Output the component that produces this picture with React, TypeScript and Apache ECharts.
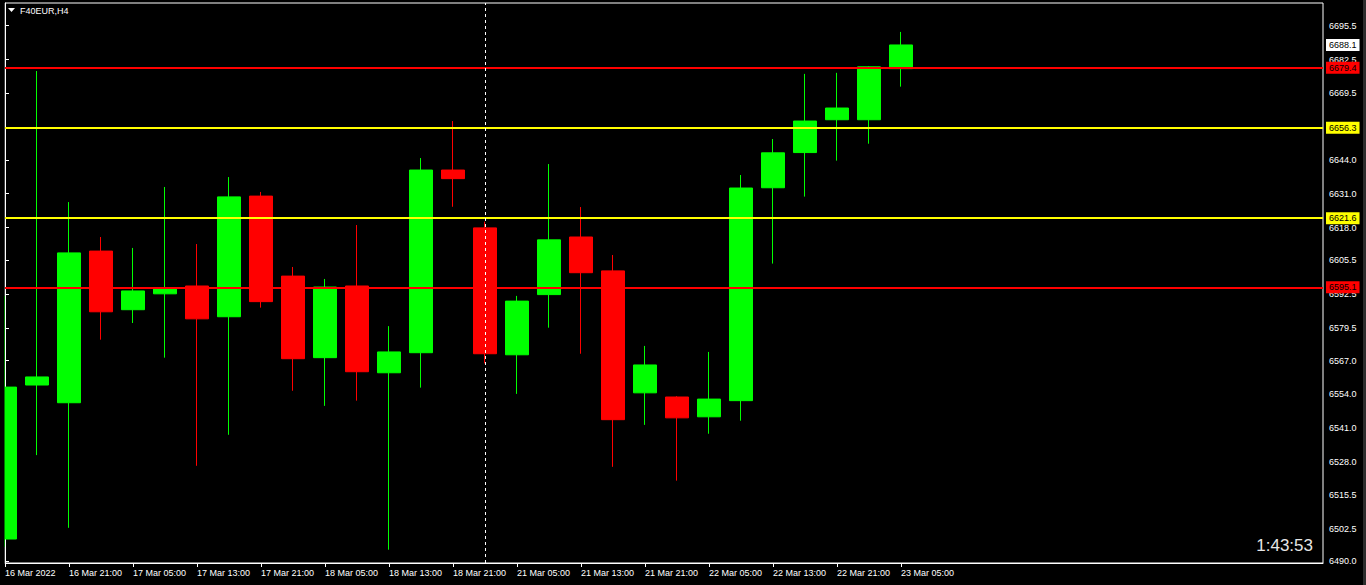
import React, { useEffect, useRef } from "react";
import * as echarts from "echarts";

const symbolTitle = "F40EUR,H4";
const timerText = "1:43:53";

// H4 candles, 16 Mar 13:00 -> 23 Mar 05:00
const opens = [6498.5, 6557.6, 6550.8, 6609.0, 6586.5, 6592.6, 6595.6, 6583.8, 6630.1, 6599.4, 6568.1, 6595.6, 6562.3, 6570.0, 6640.1, 6617.9, 6569.2, 6592.3, 6614.4, 6601.4, 6554.6, 6553.0, 6545.4, 6551.6, 6633.3, 6646.8, 6659.4, 6659.4, 6679.0];
const closes = [6556.8, 6560.7, 6608.3, 6585.7, 6593.7, 6594.8, 6583.0, 6629.8, 6589.6, 6567.7, 6595.2, 6562.7, 6570.3, 6640.1, 6636.8, 6569.6, 6589.8, 6613.3, 6600.7, 6544.3, 6565.3, 6545.0, 6552.2, 6633.2, 6646.7, 6658.9, 6663.9, 6679.7, 6688.1];
const lows = [6495.5, 6530.7, 6502.8, 6575.0, 6581.4, 6568.1, 6526.6, 6538.5, 6587.3, 6555.4, 6549.6, 6551.6, 6494.4, 6556.6, 6626.0, 6565.9, 6554.2, 6579.6, 6569.6, 6526.2, 6542.3, 6520.9, 6538.9, 6543.9, 6604.2, 6629.9, 6643.7, 6650.2, 6672.1];
const highs = [6591.8, 6678.1, 6627.8, 6614.4, 6610.2, 6633.6, 6611.7, 6637.4, 6631.7, 6602.9, 6598.3, 6619.0, 6580.2, 6644.7, 6658.9, 6620.3, 6591.8, 6642.4, 6625.9, 6607.5, 6572.6, 6553.3, 6570.3, 6638.2, 6652.0, 6677.0, 6677.4, 6679.9, 6693.1];

// x tick labels, one every two bars starting at bar 0
const xTickLabels = ["16 Mar 2022", "16 Mar 21:00", "17 Mar 05:00", "17 Mar 13:00", "17 Mar 21:00", "18 Mar 05:00", "18 Mar 13:00", "18 Mar 21:00", "21 Mar 05:00", "21 Mar 13:00", "21 Mar 21:00", "22 Mar 05:00", "22 Mar 13:00", "22 Mar 21:00", "23 Mar 05:00"];
const xTickStep = 2;

const yTickValues = [6490.0, 6502.5, 6515.5, 6528.0, 6541.0, 6554.0, 6567.0, 6579.5, 6592.5, 6605.5, 6618.0, 6631.0, 6644.0, 6656.5, 6669.5, 6682.5, 6695.5];

const resistanceLevels = [6679.4, 6595.1]; // red lines
const supportLevels = [6656.3, 6621.6]; // yellow lines
const currentPrice = 6688.1;
const separatorBar = 15; // week separator (21 Mar 01:00)

const yMin = 6489.3;
const yMax = 6704.2;
const xMax = 41.1875; // visible bar slots incl. empty future space

const FONT = "'Liberation Sans', Arial, sans-serif";

export default function App() {
  const ref = useRef<HTMLDivElement>(null);

  useEffect(() => {
    if (!ref.current) return;
    const chart = echarts.init(ref.current, undefined, { renderer: "svg" });

    const xTickIdx = xTickLabels.map((_, i) => i * xTickStep);

    const levelLabel = (v: number, bg: string) => ({
      show: true,
      position: "end" as const,
      formatter: v.toFixed(1),
      backgroundColor: bg,
      color: "#000",
      padding: [1, 3, 0, 3],
      fontSize: 9,
      lineHeight: 11,
      fontFamily: FONT,
      distance: 3,
    });

    const markData: any[] = [
      ...resistanceLevels.map((v) => ({
        yAxis: v,
        lineStyle: { color: "#ff0000", width: 2, type: "solid" },
        label: levelLabel(v, "#ff0000"),
      })),
      ...supportLevels.map((v) => ({
        yAxis: v,
        lineStyle: { color: "#ffff00", width: 2, type: "solid" },
        label: levelLabel(v, "#ffff00"),
      })),
      {
        yAxis: currentPrice,
        lineStyle: { color: "rgba(0,0,0,0)", width: 1, type: "solid" },
        label: levelLabel(currentPrice, "#ffffff"),
      },
      {
        xAxis: separatorBar,
        lineStyle: { color: "#ffffff", width: 1, type: [3, 3] },
        label: { show: false },
      },
    ];

    const option: any = {
      animation: false,
      backgroundColor: "#000",
      grid: {
        left: 5,
        top: 3,
        right: 43,
        bottom: 22,
        show: true,
        borderColor: "#ffffff",
        borderWidth: 1,
        backgroundColor: "#000",
      },
      xAxis: {
        type: "value",
        min: 0,
        max: xMax,
        axisLine: { show: true, lineStyle: { color: "#ffffff", width: 1 } },
        axisTick: { show: true, length: 4, lineStyle: { color: "#ffffff" }, customValues: xTickIdx },
        axisLabel: {
          customValues: xTickIdx,
          formatter: (v: number) => xTickLabels[Math.round(v / xTickStep)] ?? "",
          color: "#ffffff",
          fontSize: 9,
          fontFamily: FONT,
          align: "left",
          margin: 5,
        },
        splitLine: { show: false },
      },
      yAxis: {
        type: "value",
        position: "right",
        min: yMin,
        max: yMax,
        axisLine: { show: true, lineStyle: { color: "#ffffff", width: 1 } },
        axisTick: { show: true, length: 4, lineStyle: { color: "#ffffff" }, customValues: yTickValues },
        axisLabel: {
          customValues: yTickValues,
          formatter: (v: number) => v.toFixed(1),
          color: "#ffffff",
          fontSize: 9,
          fontFamily: FONT,
          margin: 6,
        },
        splitLine: { show: false },
      },
      series: [
        {
          type: "candlestick",
          dimensions: ["bar", "open", "close", "lowest", "highest"],
          encode: { x: "bar", y: ["open", "close", "lowest", "highest"] },
          data: opens.map((o, i) => [i, o, closes[i], lows[i], highs[i]]),
          barWidth: 24,
          clip: true,
          itemStyle: {
            color: "#00ff00",
            color0: "#ff0000",
            borderColor: "#00ff00",
            borderColor0: "#ff0000",
            borderWidth: 1,
          },
          markLine: {
            silent: true,
            symbol: ["none", "none"],
            animation: false,
            data: markData,
          },
        },
      ],
      graphic: [
        // mask for the part of the first bar that lies left of the plot frame
        {
          type: "rect",
          z: 90,
          shape: { x: 0, y: 0, width: 4.5, height: 585 },
          style: { fill: "#000" },
        },
        {
          type: "polygon",
          z: 100,
          shape: { points: [[8, 8], [15, 8], [11.5, 12]] },
          style: { fill: "#ffffff" },
        },
        {
          type: "text",
          z: 100,
          x: 20,
          y: 11,
          style: {
            text: symbolTitle,
            fill: "#ffffff",
            fontSize: 9,
            fontFamily: FONT,
            verticalAlign: "middle",
          },
        },
        {
          type: "text",
          z: 100,
          x: 1313,
          y: 545,
          style: {
            text: timerText,
            fill: "#e6e6e6",
            fontSize: 17,
            fontFamily: FONT,
            align: "right",
            verticalAlign: "middle",
          },
        },
        {
          type: "rect",
          z: 100,
          shape: { x: 1363, y: 0, width: 3, height: 585 },
          style: { fill: "#2d2d2d" },
        },
      ],
    };

    chart.setOption(option);
    return () => chart.dispose();
  }, []);

  return (
    <div
      ref={ref}
      style={{ position: "fixed", left: 0, top: 0, width: 1366, height: 585, background: "#000" }}
    />
  );
}
